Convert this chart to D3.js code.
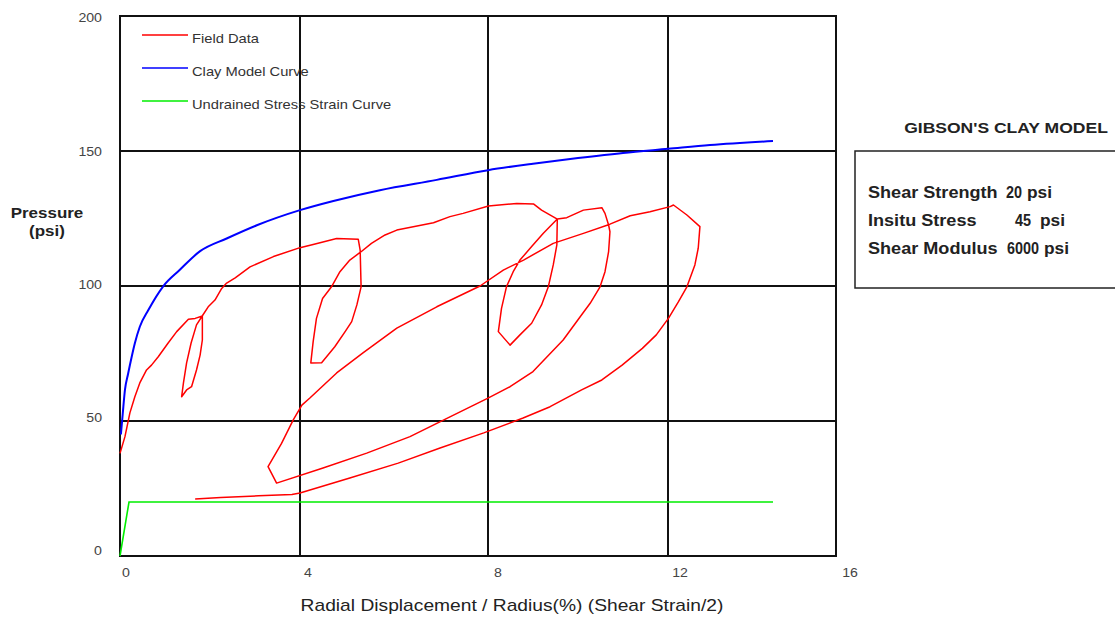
<!DOCTYPE html>
<html>
<head>
<meta charset="utf-8">
<script src="https://cdn.jsdelivr.net/npm/d3@7"></script>
<style>
  html, body { margin: 0; padding: 0; background: #fff; }
  svg { display: block; font-family: "Liberation Sans", Arial, sans-serif; }
</style>
</head>
<body>
<svg id="chart" width="1115" height="622"></svg>
<script>
// Axis ticks
const xTicks = [0, 4, 8, 12, 16];
const yTicks = [0, 50, 100, 150, 200];

// Field data: pressuremeter test with three unload/reload loops
const fieldStrain = [
  0, 0.11, 0.22, 0.33, 0.44, 0.59, 0.70, 0.85, 1.07, 1.26, 1.52, 1.67, 1.83,
  1.83, 1.78, 1.70, 1.59, 1.48, 1.37,
  1.41, 1.48, 1.58, 1.70, 1.82,
  1.96, 2.11, 2.26, 2.37, 2.56, 2.89, 3.41, 4.0, 4.28, 4.78, 5.24,
  5.28, 5.30, 5.21, 5.10, 4.96, 4.74, 4.46, 4.23,
  4.28, 4.35, 4.48, 4.67, 4.85, 5.06, 5.30, 5.52, 5.81, 6.06, 6.84, 7.19, 7.47, 8.01, 8.64, 9.01, 9.19, 9.54,
  9.53, 9.45, 9.34, 9.19, 8.97, 8.71, 8.49, 8.23,
  8.30, 8.41, 8.56, 8.71, 8.97, 9.23, 9.54,
  9.75, 10.12, 10.53, 10.60, 10.68, 10.71, 10.68, 10.60, 10.49, 10.27, 10.11, 9.67, 9.00, 8.49, 8.0, 7.19, 6.34, 5.42, 4.49, 3.48,
  3.29, 3.59, 3.85, 4.04, 4.21, 4.78, 5.34, 6.06, 6.91, 7.83, 8.34, 8.79, 9.45, 10.12, 10.71, 11.16, 11.60, 12.05, 12.13,
  12.45, 12.76, 12.72, 12.64, 12.45, 12.25, 12.01, 11.74, 11.43, 10.98, 10.53, 10.08, 9.38, 8.78, 7.91, 6.98, 6.09, 5.06, 4.0, 3.82, 3.08, 2.24, 1.67
];
const fieldPressure = [
  38.0, 44.2, 53.0, 59.0, 64.1, 68.9, 70.7, 73.8, 78.9, 83.1, 87.7, 88.0, 88.9,
  80.0, 74.4, 68.9, 62.7, 61.5, 59.0,
  64.1, 71.5, 78.9, 85.6, 88.7,
  92.3, 94.8, 99.1, 101.1, 103.0, 107.1, 110.9, 114.2, 115.4, 117.6, 117.3,
  113.3, 99.7, 93.0, 86.8, 83.1, 77.5, 71.6, 71.5,
  79.4, 88.0, 95.4, 99.7, 105.3, 109.6, 112.7, 115.8, 118.9, 120.7, 123.4, 125.7, 126.9, 129.6, 130.6, 130.4, 128.1, 124.8,
  115.2, 107.8, 99.7, 93.0, 86.2, 81.9, 78.1, 83.1,
  91.7, 99.7, 105.3, 109.6, 114.6, 119.5, 124.8,
  125.3, 128.1, 129.0, 126.9, 122.6, 120.1, 112.7, 105.3, 99.7, 93.6, 90.0, 80.0, 68.3, 62.7, 58.5, 51.5, 44.2, 38.1, 32.6, 27.0,
  33.1, 41.7, 50.4, 55.9, 58.5, 67.8, 75.2, 84.4, 92.3, 100.0, 105.9, 109.6, 115.8, 119.5, 122.9, 126.0, 127.5, 129.4, 130.0,
  126.3, 122.0, 114.0, 107.8, 99.7, 94.2, 88.0, 81.9, 76.9, 70.7, 65.2, 61.5, 55.3, 51.1, 45.6, 40.0, 34.4, 28.9, 23.3, 22.8, 22.3, 21.7, 21.1
];

// Gibson clay model curve
const clayStrain = [0.02, 0.06, 0.11, 0.18, 0.26, 0.33, 0.44, 0.63, 0.96, 1.33, 1.78, 2.37, 3.04, 4.0, 4.71, 5.7, 6.91, 8.0, 9.0, 10.0, 11.0, 12.0, 13.0, 14.5];
const clayPressure = [45, 52.5, 61.5, 67.5, 73.8, 78.8, 84.9, 91.1, 99.9, 106.0, 112.9, 117.6, 122.5, 128.1, 131.5, 135.5, 139.3, 142.9, 145.3, 147.4, 149.3, 150.8, 152.2, 153.7];

// Undrained stress-strain curve
const undrainedStrain = [0, 0.2, 14.5];
const undrainedPressure = [0, 20, 20];

const legendLabels = ["Field Data", "Clay Model Curve", "Undrained Stress Strain Curve"];
const legendColors = ["#ff0000", "#0000ff", "#00ee00"];

const modelTitle = "GIBSON'S CLAY MODEL";
const paramLabels = ["Shear Strength", "Insitu Stress", "Shear Modulus"];
const paramValues = ["20", "45", "6000"];
const paramUnit = "psi";

const svg = d3.select("#chart");
const STRETCH = 1.13; // glyphs are drawn slightly wide

function widen(sel, k = STRETCH) {
  sel.each(function () {
    const w = this.getComputedTextLength();
    this.setAttribute("textLength", (w * k).toFixed(1));
    this.setAttribute("lengthAdjust", "spacingAndGlyphs");
  });
}

const x = d3.scaleLinear().domain(xTicks).range([120, 300, 488, 668, 836]);
const y = d3.scaleLinear().domain([0, 200]).range([556, 16]);
// tick labels sit a little inside the gridline span
const yLabel = d3.scaleLinear().domain([0, 200]).range([551, 18]);

svg.append("rect").attr("width", 1115).attr("height", 622).attr("fill", "#fff");

// Grid
const grid = svg.append("g").attr("stroke", "#111").attr("stroke-width", 2);
grid.selectAll("line.v").data(xTicks.slice(1, -1)).join("line")
  .attr("x1", d => x(d)).attr("x2", d => x(d))
  .attr("y1", y(200)).attr("y2", y(0));
grid.selectAll("line.h").data(yTicks.slice(1, -1)).join("line")
  .attr("x1", x(0)).attr("x2", x(16))
  .attr("y1", d => y(d)).attr("y2", d => y(d));
svg.append("rect")
  .attr("x", x(0)).attr("y", y(200))
  .attr("width", x(16) - x(0)).attr("height", y(0) - y(200))
  .attr("fill", "none").attr("stroke", "#111").attr("stroke-width", 2);

// Tick labels
svg.append("g").selectAll("text").data(yTicks).join("text")
  .attr("x", 102).attr("y", d => yLabel(d)).attr("dy", "0.35em")
  .attr("text-anchor", "end").attr("font-size", 12.5).attr("fill", "#444")
  .text(d => d).call(widen);
svg.append("g").selectAll("text").data(xTicks).join("text")
  .attr("x", d => x(d) + 6 + d * 0.5).attr("y", 577)
  .attr("text-anchor", "middle").attr("font-size", 12.5).attr("fill", "#444")
  .text(d => d).call(widen);

// Axis titles
svg.append("text").attr("x", 47).attr("y", 218).attr("text-anchor", "middle")
  .attr("font-size", 15).attr("font-weight", "bold").attr("fill", "#222")
  .text("Pressure").call(widen);
svg.append("text").attr("x", 47).attr("y", 236).attr("text-anchor", "middle")
  .attr("font-size", 15).attr("font-weight", "bold").attr("fill", "#222")
  .text("(psi)").call(widen);
svg.append("text").attr("x", 512).attr("y", 611).attr("text-anchor", "middle")
  .attr("font-size", 17).attr("fill", "#222")
  .text("Radial Displacement / Radius(%) (Shear Strain/2)").call(widen);

// Series
const zip = (a, b) => a.map((v, i) => [v, b[i]]);
const straight = d3.line().x(d => x(d[0])).y(d => y(d[1]));
const smooth = d3.line().x(d => x(d[0])).y(d => y(d[1])).curve(d3.curveMonotoneX);

svg.append("path").datum(zip(undrainedStrain, undrainedPressure))
  .attr("d", straight).attr("fill", "none").attr("stroke", legendColors[2]).attr("stroke-width", 1.6);
svg.append("path").datum(zip(clayStrain, clayPressure))
  .attr("d", smooth).attr("fill", "none").attr("stroke", legendColors[1]).attr("stroke-width", 2);
svg.append("path").datum(zip(fieldStrain, fieldPressure))
  .attr("d", straight).attr("fill", "none")
  .attr("stroke", legendColors[0]).attr("stroke-width", 1.5).attr("stroke-linejoin", "round");

// Legend
const legend = svg.append("g");
const legendY = [35, 68, 101];
legend.selectAll("line").data(legendLabels).join("line")
  .attr("x1", 142).attr("x2", 188)
  .attr("y1", (d, i) => legendY[i]).attr("y2", (d, i) => legendY[i])
  .attr("stroke", (d, i) => legendColors[i]).attr("stroke-width", 1.6);
legend.selectAll("text").data(legendLabels).join("text")
  .attr("x", 192).attr("y", (d, i) => legendY[i] + 3).attr("dy", "0.35em")
  .attr("font-size", 13).attr("fill", "#333")
  .text(d => d).call(widen);

// Model parameter panel
svg.append("text").attr("x", 1006).attr("y", 128).attr("dy", "0.35em")
  .attr("text-anchor", "middle").attr("font-size", 15.5).attr("font-weight", "bold").attr("fill", "#222")
  .text(modelTitle).call(widen);
svg.append("rect").attr("x", 855).attr("y", 151).attr("width", 275).attr("height", 137)
  .attr("fill", "none").attr("stroke", "#222").attr("stroke-width", 1.5);
const rowY = [192, 220, 248];
const valueX = [1006, 1015, 1007];
const unitX = [1027, 1040, 1044];
const panel = svg.append("g").attr("font-size", 16).attr("font-weight", "bold").attr("fill", "#222");
panel.selectAll("text.lab").data(paramLabels).join("text").attr("class", "lab")
  .attr("x", 868).attr("y", (d, i) => rowY[i]).attr("dy", "0.35em").text(d => d).call(widen);
panel.selectAll("text.val").data(paramValues).join("text").attr("class", "val")
  .attr("x", (d, i) => valueX[i]).attr("y", (d, i) => rowY[i]).attr("dy", "0.35em")
  .text(d => d).call(widen, 0.9);
panel.selectAll("text.unit").data(paramValues).join("text").attr("class", "unit")
  .attr("x", (d, i) => unitX[i]).attr("y", (d, i) => rowY[i]).attr("dy", "0.35em")
  .text(paramUnit).call(widen, 1.08);
</script>
</body>
</html>
